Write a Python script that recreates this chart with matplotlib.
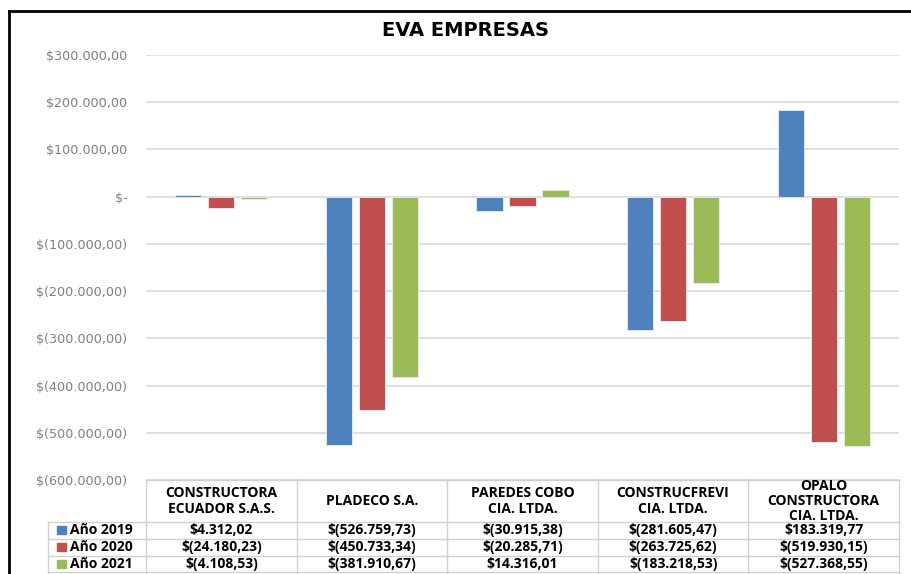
import matplotlib
matplotlib.use("Agg")
import matplotlib.pyplot as plt
import numpy as np

plt.rcParams["font.family"] = ["DejaVu Sans"]

empresas = [
    "CONSTRUCTORA\nECUADOR S.A.S.",
    "PLADECO S.A.",
    "PAREDES COBO\nCIA. LTDA.",
    "CONSTRUCFREVI\nCIA. LTDA.",
    "OPALO\nCONSTRUCTORA\nCIA. LTDA.",
]
series_names = ["Año 2019", "Año 2020", "Año 2021"]
eva_2019 = [4312.02, -526759.73, -30915.38, -281605.47, 183319.77]
eva_2020 = [-24180.23, -450733.34, -20285.71, -263725.62, -519930.15]
eva_2021 = [-4108.53, -381910.67, 14316.01, -183218.53, -527368.55]
colores = ["#4F81BD", "#C0504D", "#9BBB59"]
y_ticks = [300000, 200000, 100000, 0, -100000, -200000, -300000, -400000, -500000, -600000]


def fmt_money(v):
    if v == 0:
        return "$-"
    s = f"{abs(v):,.2f}".replace(",", "X").replace(".", ",").replace("X", ".")
    return f"$({s})" if v < 0 else f"${s}"


W, H = 911, 574
fig = plt.figure(figsize=(W / 100, H / 100), dpi=100)

# area del grafico (en pixeles de la imagen)
px_l, px_r, px_t, px_b = 146, 899, 55, 480
ax = fig.add_axes([px_l / W, 1 - px_b / H, (px_r - px_l) / W, (px_b - px_t) / H])

series = [eva_2019, eva_2020, eva_2021]
x = np.arange(len(empresas))
offsets = [-0.219, 0.0, 0.219]
for vals, off, col, name in zip(series, offsets, colores, series_names):
    ax.bar(x + off, vals, width=0.173, color=col, edgecolor="#e8eef7", linewidth=0.6,
           label=name, zorder=3)

ax.set_xlim(-0.5, len(empresas) - 0.5)
ax.set_ylim(-600000, 300000)
ax.set_yticks(y_ticks)
ax.set_yticklabels([fmt_money(v) for v in y_ticks], color="#7f7f7f", fontsize=9.2)
ax.tick_params(axis="y", length=0, pad=13.5)
ax.set_xticks([])
for sp in ax.spines.values():
    sp.set_visible(False)
ax.grid(axis="y", color="#d9d9d9", linewidth=1.2, zorder=0)

fig.text(465 / W, 1 - 31 / H, "EVA EMPRESAS", ha="center", va="center",
         fontsize=14, fontweight="bold")

# capa de dibujo en pixeles para la tabla de datos y el marco
ov = fig.add_axes([0, 0, 1, 1], facecolor="none")
ov.set_xlim(0, W)
ov.set_ylim(H, 0)
ov.axis("off")

line_kw = dict(color="#d0d0d0", linewidth=1.0)
col_w = (px_r - px_l) / len(empresas)
head_top, head_bot = 480, 522
row_h = 16.8
legend_l = 48
tabla_font = ["Open Sans", "DejaVu Sans"]
fs_tabla = 10.0

# verticales
for k in range(len(empresas) + 1):
    ov.plot([px_l + k * col_w] * 2, [head_top, H], **line_kw)
ov.plot([legend_l, legend_l], [head_bot, H], **line_kw)
# horizontales
ov.plot([px_l, px_r], [head_top, head_top], **line_kw)
for r in range(len(series) + 1):
    yy = head_bot + r * row_h
    ov.plot([legend_l, px_r], [yy, yy], **line_kw)

for k, nombre in enumerate(empresas):
    ov.text(px_l + (k + 0.5) * col_w, (head_top + head_bot) / 2, nombre,
            ha="center", va="center", fontsize=fs_tabla, fontweight="bold",
            linespacing=1.1, family=tabla_font)

for r, (vals, col, name) in enumerate(zip(series, colores, series_names)):
    yc = head_bot + (r + 0.5) * row_h
    ov.add_patch(plt.Rectangle((57, yc - 4), 9, 8, color=col))
    ov.text(70, yc, name, ha="left", va="center", fontsize=fs_tabla, fontweight="bold",
            family=tabla_font)
    for k, v in enumerate(vals):
        ov.text(px_l + (k + 0.5) * col_w, yc, fmt_money(v), ha="center",
                va="center", fontsize=fs_tabla, fontweight="bold", family=tabla_font)

# marco del grafico
ov.plot([9, 9], [11, H], color="black", linewidth=2)
ov.plot([9, W], [11, 11], color="black", linewidth=2)

fig.savefig("out.png", dpi=100)
